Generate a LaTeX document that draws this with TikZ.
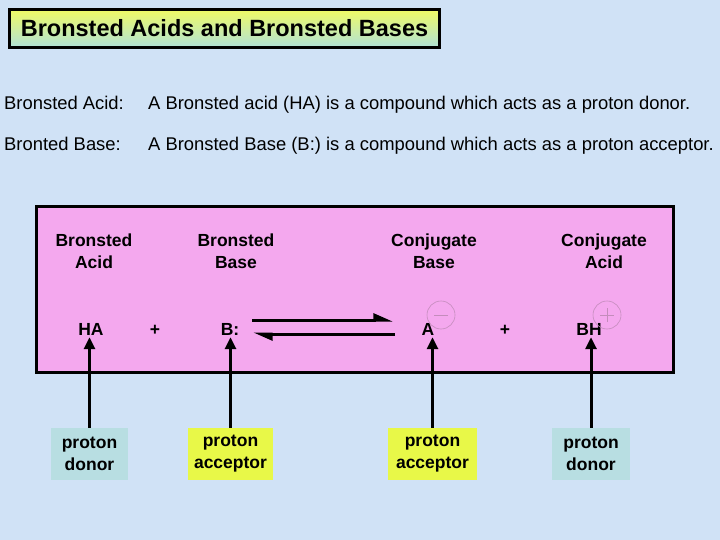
\documentclass[tikz,border=0pt]{standalone}
\usepackage{fontspec}
\setmainfont{Liberation Sans}
\usetikzlibrary{arrows.meta}
\definecolor{sky}{RGB}{208,226,246}
\definecolor{rose}{RGB}{244,168,238}
\definecolor{lemon}{RGB}{232,248,72}
\definecolor{mist}{RGB}{184,222,226}
\definecolor{ring}{RGB}{196,140,188}
\definecolor{titletop}{RGB}{240,250,100}
\definecolor{titlebot}{RGB}{176,226,216}
\tikzset{
  body/.style={font=\fontsize{18.4}{22}\selectfont, inner sep=0pt},
  head/.style={font=\fontsize{17.5}{22}\selectfont\bfseries, align=center},
  chem/.style={font=\fontsize{17.5}{22}\selectfont\bfseries, inner sep=2pt, anchor=base},
  tag/.style={font=\fontsize{17.5}{22}\selectfont\bfseries, align=center, minimum height=52pt, inner sep=0pt},
  charge/.style={circle, draw=ring, line width=0.6pt, minimum size=28pt, inner sep=0pt},
  uparrow/.style={line width=3pt, -{Triangle[length=12pt, width=11pt]}},
  harpoon/.style={line width=3pt, -{Triangle[left, length=16pt, width=13pt]}}
}
\begin{document}
\begin{tikzpicture}[x=1pt, y=-1pt]
\useasboundingbox (0,0) rectangle (720,540);
\fill[sky] (0,0) rectangle (720,540);
% title
\node[draw, line width=3.5pt, top color=titletop, bottom color=titlebot,
  minimum width=430pt, minimum height=38pt, inner sep=0pt,
  font=\fontsize{23.5}{26}\selectfont\bfseries] (title) at (224.5,28.5) {Bronsted Acids and Bronsted Bases};
% definitions
\node[body, anchor=base west] (acidname) at (4,110) {Bronsted Acid:};
\node[body, anchor=base west] (aciddef) at (148,110) {A Bronsted acid (HA) is a compound which acts as a proton donor.};
\node[body, anchor=base west] (basename) at (4,151) {Bronted Base:};
\node[body, anchor=base west] (basedef) at (148,151) {A Bronsted Base (B:) is a compound which acts as a proton acceptor.};
% reaction panel
\draw[line width=3pt, fill=rose] (36,207) rectangle (673,372);
\node[head] (acid) at (94,251) {Bronsted\\Acid};
\node[head] (base) at (236,251) {Bronsted\\Base};
\node[head] (cbase) at (434,251) {Conjugate\\Base};
\node[head] (cacid) at (604,251) {Conjugate\\Acid};
\node[chem] (HA) at (91,335) {HA};
\node[chem] (plusa) at (155,335) {+};
\node[chem] (B) at (230,335) {B:};
\node[chem] (A) at (428,335) {A};
\node[chem] (plusb) at (505,335) {+};
\node[chem] (BH) at (589,335) {BH};
\node[charge] (neg) at (441,315) {};
\draw[ring, line width=0.6pt] ([xshift=-7pt]neg.center) -- ([xshift=7pt]neg.center);
\node[charge] (pos) at (607,315) {};
\draw[ring, line width=0.6pt] ([xshift=-7pt]pos.center) -- ([xshift=7pt]pos.center);
\draw[ring, line width=0.6pt] ([yshift=-7pt]pos.center) -- ([yshift=7pt]pos.center);
% equilibrium
\coordinate (fwdstart) at (252,320);
\coordinate (fwdend) at (393,320);
\coordinate (revstart) at (395,334);
\coordinate (revend) at (253,334);
\draw[harpoon] (fwdstart) -- (fwdend);
\draw[harpoon] (revstart) -- (revend);
% roles
\node[tag, fill=mist, minimum width=77pt] (donora) at (89.5,454) {proton\\donor};
\node[tag, fill=lemon, minimum width=85pt] (acceptora) at (230.5,454) {proton\\acceptor};
\node[tag, fill=lemon, minimum width=89pt] (acceptorb) at (432.5,454) {proton\\acceptor};
\node[tag, fill=mist, minimum width=78pt] (donorb) at (591,454) {proton\\donor};
\draw[uparrow] (donora.north) -- (donora.north |- HA.south);
\draw[uparrow] (acceptora.north) -- (acceptora.north |- B.south);
\draw[uparrow] (acceptorb.north) -- (acceptorb.north |- A.south);
\draw[uparrow] (donorb.north) -- (donorb.north |- BH.south);
\end{tikzpicture}
\end{document}
